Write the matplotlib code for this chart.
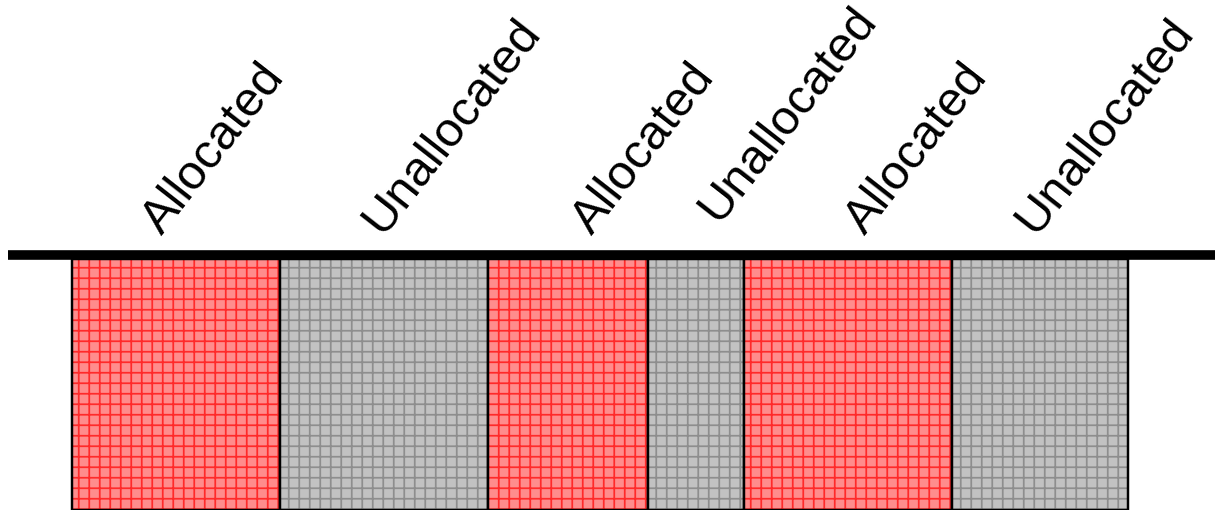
import numpy as np
import matplotlib
matplotlib.use("Agg")
import matplotlib.pyplot as plt

# Memory regions (width in blocks) and their state
region_labels = ["Allocated", "Unallocated", "Allocated",
                 "Unallocated", "Allocated", "Unallocated"]
region_sizes = [13, 13, 10, 6, 13, 11]

fill_colors = {"Allocated": "#ff8c8c", "Unallocated": "#c2c2c2"}
hatch_colors = {"Allocated": "#ff2a2a", "Unallocated": "#8e8e8e"}

# label nudges in pixels (dx, dy) so they sit like the original
label_nudge = [(-14, 0), (-2, 0), (24, 0), (22, -12), (17, 0), (-5, 0)]

plt.rcParams['font.family'] = ['Liberation Sans', 'DejaVu Sans']
plt.rcParams['hatch.linewidth'] = 1.0

dpi = 126
fig = plt.figure(figsize=(1215 / dpi, 510 / dpi), dpi=dpi)
ax = fig.add_axes([0, 0, 1, 1])

px = 16.0  # pixels per block
x0 = -72 / px
ax.set_xlim(x0, x0 + 1215 / px)
ax.set_ylim(510, 0)
ax.axis('off')

starts = np.concatenate([[0], np.cumsum(region_sizes)[:-1]])
line_y = 254.5
bar_top = 259

for lab, s, w, (dx, dy) in zip(region_labels, starts, region_sizes, label_nudge):
    ax.bar(s, 510 - bar_top, width=w, bottom=bar_top, align='edge',
           facecolor=fill_colors[lab], edgecolor=hatch_colors[lab],
           hatch='++', linewidth=0)
    ax.bar(s, 510 - bar_top, width=w, bottom=bar_top, align='edge',
           facecolor='none', edgecolor='black', linewidth=1.4)
    ax.text(s + w / 2 + dx / px, 236 + dy, lab, rotation=52,
            rotation_mode='anchor', ha='left', va='baseline',
            fontsize=28, color='black')

ax.plot([x0 + 8 / px, x0 + 1215 / px], [line_y, line_y],
        color='black', linewidth=5.5, solid_capstyle='butt')

fig.savefig("out.png", dpi=dpi)
